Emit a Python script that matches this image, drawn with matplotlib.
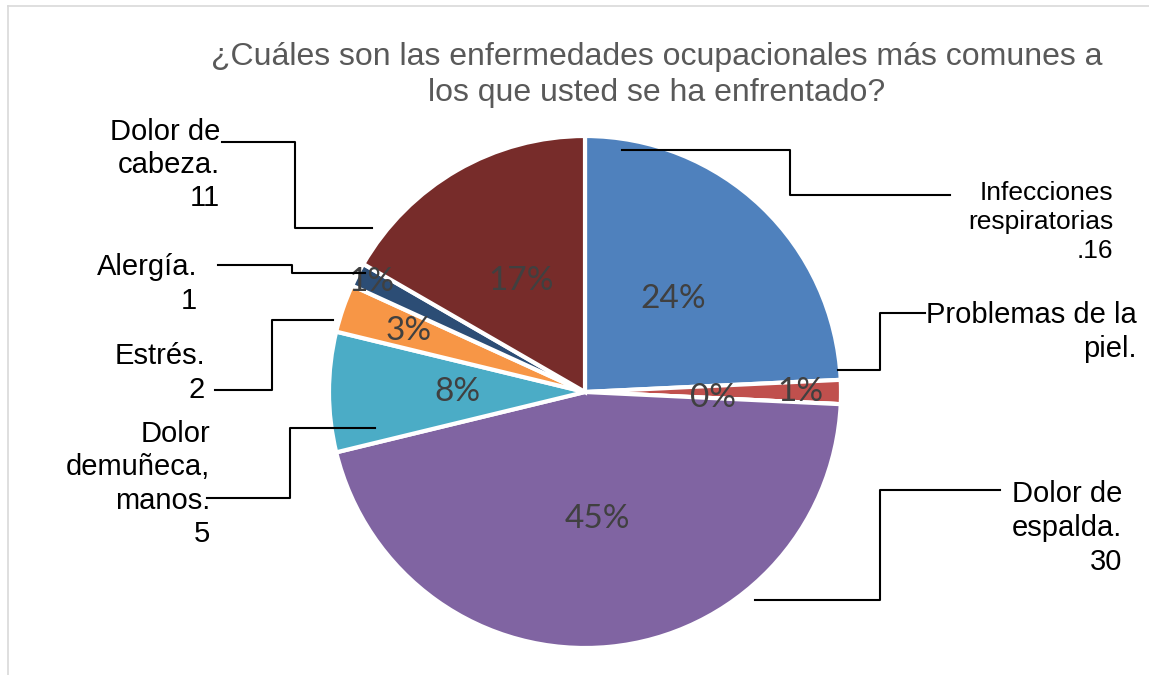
import numpy as np
import matplotlib
matplotlib.use("Agg")
import matplotlib.pyplot as plt

# datos del grafico (orden de Excel, en sentido horario desde las 12)
categorias = ["Infecciones\nrespiratorias\n.16", "Problemas de la\npiel.", "", "Dolor de\nespalda.\n30",
              "Dolor\ndemuñeca,\nmanos.\n5", "Estrés.\n2", "Alergía.\n1", "Dolor de\ncabeza.\n11"]
valores = [16, 1, 0, 30, 5, 2, 1, 11]
etiquetas_pct = ["24%", "1%", "0%", "45%", "8%", "3%", "1%", "17%"]
colores = ["#4F81BD", "#C0504D", "#9BBB59", "#8064A2", "#4BACC6", "#F79646", "#2C4D75", "#772C2A"]

titulo = "¿Cuáles son las enfermedades ocupacionales más comunes a\nlos que usted se ha enfrentado?"

W, H = 1149, 675
fig = plt.figure(figsize=(W / 100, H / 100), dpi=100)

# pastel: centro (585, 392) px, radio 256 px
cx, cy, r = 585, 392, 256
ax = fig.add_axes([(cx - r) / W, (H - cy - r) / H, 2 * r / W, 2 * r / H])
wedges, _ = ax.pie(valores, colors=colores, startangle=90, counterclock=False,
                   wedgeprops=dict(edgecolor="white", linewidth=3))
ax.set_xlim(-1, 1)
ax.set_ylim(-1, 1)

# distancia radial de cada etiqueta de porcentaje (Excel movio las pequeñas)
dist_pct = [0.5, 0.84, 0.5, 0.5, 0.5, 0.73, 0.94, 0.5]
for w, txt, d in zip(wedges, etiquetas_pct, dist_pct):
    ang = np.deg2rad((w.theta1 + w.theta2) / 2)
    ax.text(d * np.cos(ang), d * np.sin(ang), txt, ha="center", va="center",
            fontsize=24, color="#404040", family="Lato")

# capa encima en pixeles para marco, titulo, etiquetas y lineas guia
bg = fig.add_axes([0, 0, 1, 1])
bg.set_xlim(0, W)
bg.set_ylim(H, 0)
bg.axis("off")
bg.plot([8, W], [6, 6], color="#D9D9D9", lw=1.2)
bg.plot([8, 8], [6, H], color="#D9D9D9", lw=1.2)

bg.text(657, 75, titulo, ha="center", va="center", fontsize=23, color="#595959",
        family="Liberation Sans", linespacing=1.3)

# etiquetas de categoria con su linea guia (x, y del texto; puntos de la linea)
pos_etiq = {
    0: (1113, 222, [(622, 150), (790, 150), (790, 195), (950, 195)], 19),
    1: (1137, 332, [(838, 370), (880, 370), (880, 313), (925, 313)], 21),
    3: (1122, 528, [(755, 600), (880, 600), (880, 490), (1000, 490)], 21),
    4: (210, 484, [(375, 428), (290, 428), (290, 498), (207, 498)], 21),
    5: (205, 373, [(333, 320), (272, 320), (272, 390), (215, 390)], 21),
    6: (197, 284, [(365, 273), (292, 273), (292, 265), (218, 265)], 21),
    7: (220, 165, [(372, 228), (295, 228), (295, 142), (222, 142)], 21),
}
for i, (tx, ty, pts, fs) in pos_etiq.items():
    xs, ys = zip(*pts)
    bg.plot(xs, ys, color="black", lw=1.5, zorder=5)
    bg.text(tx, ty, categorias[i], ha="right", va="center", multialignment="right",
            fontsize=fs, color="black", family="Liberation Sans", linespacing=1.25)

fig.savefig("out.png", dpi=100)
